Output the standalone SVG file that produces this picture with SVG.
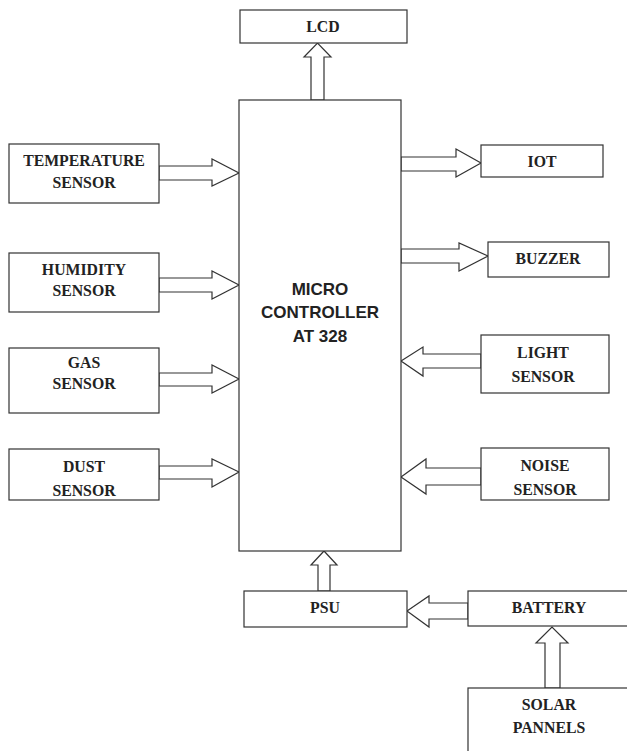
<svg xmlns="http://www.w3.org/2000/svg" width="627" height="751" viewBox="0 0 627 751">
<style>
.box{fill:#fff;stroke:#333;stroke-width:1.2}
.arr{fill:#fff;stroke:#333;stroke-width:1.2;stroke-linejoin:miter}
.t{font-family:"Liberation Serif","Times New Roman",serif;font-weight:bold;font-size:15.8px;fill:#222;text-anchor:middle}
.m{font-family:"Liberation Sans",Arial,sans-serif;font-weight:bold;font-size:17px;fill:#222;text-anchor:middle}
</style>
<rect width="627" height="751" fill="#fff"/>
<g id="connectors">
<polygon class="arr" points="311,100 311,57 304,57 317.5,43 331,57 324,57 324,100"/>
<polygon class="arr" points="159,166 212,166 212,159 239,173 212,186 212,180 159,180"/>
<polygon class="arr" points="159,278 212,278 212,271 239,285 212,299 212,292 159,292"/>
<polygon class="arr" points="159,373 212,373 212,365 239,379 212,393 212,386 159,386"/>
<polygon class="arr" points="159,466 212,466 212,459 239,472 212,487 212,479 159,479"/>
<polygon class="arr" points="401,157 456,157 456,149 481,163 456,177 456,171 401,171"/>
<polygon class="arr" points="401,249 459,249 459,243 488,256 459,271 459,263 401,263"/>
<polygon class="arr" points="481,354 423,354 423,347 401,361 423,376 423,368 481,368"/>
<polygon class="arr" points="481,468 426,468 426,459 401,477 426,494 426,485 481,485"/>
<polygon class="arr" points="318,591 318,565 311,565 324,551 337,565 330,565 330,591"/>
<polygon class="arr" points="468,603 429,603 429,596 407,611 429,627 429,619 468,619"/>
<polygon class="arr" points="545,688 545,643 536,643 552,627 568,643 560,643 560,688"/>
</g>
<g id="lcd"><rect class="box" x="240" y="10" width="167" height="33"/><text class="t" x="323" y="32">LCD</text></g>
<g id="mcu"><rect class="box" x="239" y="100" width="162" height="451"/>
<text class="m" x="320" y="295">MICRO</text><text class="m" x="320" y="318">CONTROLLER</text><text class="m" x="320" y="342">AT 328</text></g>
<g id="temperature"><rect class="box" x="9" y="144" width="150" height="59"/><text class="t" x="84" y="166">TEMPERATURE</text><text class="t" x="84" y="188">SENSOR</text></g>
<g id="humidity"><rect class="box" x="9" y="253" width="150" height="59"/><text class="t" x="84" y="275">HUMIDITY</text><text class="t" x="84" y="296">SENSOR</text></g>
<g id="gas"><rect class="box" x="9" y="348" width="150" height="65"/><text class="t" x="84" y="368">GAS</text><text class="t" x="84" y="389">SENSOR</text></g>
<g id="dust"><rect class="box" x="9" y="449" width="150" height="51"/><text class="t" x="84" y="472">DUST</text><text class="t" x="84" y="496">SENSOR</text></g>
<g id="iot"><rect class="box" x="481" y="145" width="122" height="32"/><text class="t" x="542" y="167">IOT</text></g>
<g id="buzzer"><rect class="box" x="488" y="242" width="121" height="35"/><text class="t" x="548" y="264">BUZZER</text></g>
<g id="light"><rect class="box" x="481" y="335" width="128" height="58"/><text class="t" x="543" y="358">LIGHT</text><text class="t" x="543" y="382">SENSOR</text></g>
<g id="noise"><rect class="box" x="481" y="448" width="128" height="52"/><text class="t" x="545" y="471">NOISE</text><text class="t" x="545" y="495">SENSOR</text></g>
<g id="psu"><rect class="box" x="244" y="591" width="163" height="36"/><text class="t" x="325" y="613">PSU</text></g>
<g id="battery"><rect class="box" x="468" y="591" width="162" height="35"/><text class="t" x="549" y="613">BATTERY</text></g>
<g id="solar"><rect class="box" x="468" y="688" width="162" height="70"/><text class="t" x="549" y="710">SOLAR</text><text class="t" x="549" y="733">PANNELS</text></g>
</svg>
